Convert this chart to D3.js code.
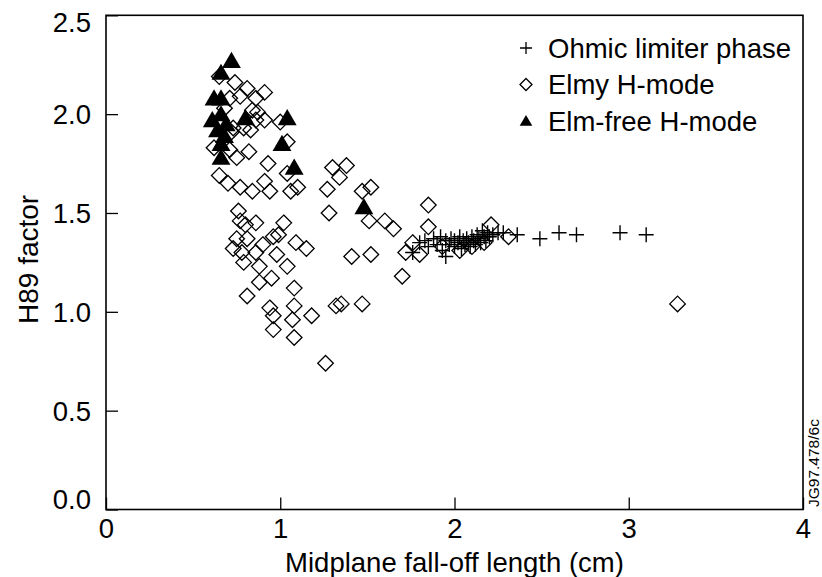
<!DOCTYPE html>
<html>
<head>
<meta charset="utf-8">
<script src="https://cdn.jsdelivr.net/npm/d3@7"></script>
<style>
  body { margin: 0; background: #fff; }
  text { font-family: "Liberation Sans", Arial, Helvetica, sans-serif; fill: #000; }
</style>
</head>
<body>
<svg id="chart" width="822" height="577"></svg>
<script>
// Ohmic limiter phase
const ohmicX = [1.76,1.80,1.83,1.85,1.88,1.90,1.92,1.93,1.95,1.95,1.97,1.98,2.00,2.00,2.02,2.03,2.04,2.05,2.06,2.07,2.08,2.09,2.10,2.11,2.12,2.13,2.14,2.15,2.16,2.17,2.18,2.19,2.20,2.22,2.25,2.28,2.36,2.49,2.60,2.70,2.95,3.10];
const ohmicY = [1.30,1.35,1.36,1.33,1.37,1.34,1.38,1.31,1.28,1.36,1.34,1.37,1.33,1.36,1.35,1.38,1.32,1.36,1.34,1.37,1.35,1.33,1.38,1.36,1.34,1.39,1.37,1.35,1.41,1.38,1.36,1.40,1.38,1.39,1.40,1.40,1.39,1.37,1.40,1.39,1.40,1.39];

// Elmy H-mode
const elmyX = [0.74,0.81,0.65,0.91,0.86,0.77,0.71,0.84,0.87,0.91,1.00,0.86,0.83,0.73,0.79,1.04,0.62,0.71,0.82,0.75,0.93,1.04,1.30,1.38,1.34,0.65,0.70,0.77,0.84,0.91,0.94,1.06,1.10,1.27,1.47,1.52,
  1.28,0.76,0.77,0.80,0.86,1.02,1.51,0.75,0.81,0.73,0.78,0.79,0.86,0.90,0.96,0.99,0.98,1.09,1.15,0.88,1.04,0.95,0.88,1.08,1.41,1.52,0.81,0.94,0.96,1.08,1.07,1.18,0.96,1.08,1.32,1.35,1.47,1.26,
  1.60,1.65,1.85,1.85,1.76,1.72,1.80,1.70,2.21,2.31,1.93,2.03,2.10,2.17,3.28,0.68,0.72];
const elmyY = [2.16,2.13,2.19,2.11,2.08,2.09,2.08,2.02,2.01,1.97,1.96,1.97,1.92,1.93,1.93,1.86,1.83,1.82,1.81,1.78,1.75,1.70,1.73,1.74,1.68,1.69,1.65,1.63,1.61,1.66,1.61,1.61,1.63,1.62,1.61,1.63,
  1.50,1.51,1.46,1.44,1.45,1.45,1.46,1.37,1.37,1.32,1.30,1.25,1.30,1.34,1.38,1.39,1.29,1.35,1.32,1.23,1.23,1.17,1.15,1.12,1.28,1.29,1.08,1.02,0.98,1.03,0.96,0.98,0.91,0.87,1.03,1.04,1.04,0.74,
  1.46,1.42,1.54,1.43,1.35,1.30,1.29,1.18,1.44,1.38,1.33,1.31,1.33,1.35,1.04,2.03,1.91];

// Elm-free H-mode
const freeX = [0.72,0.66,0.62,0.66,0.61,0.66,0.69,0.64,0.80,1.04,0.66,1.01,1.08,0.66,0.68,1.48];
const freeY = [2.27,2.21,2.08,2.08,1.97,2.00,1.95,1.92,1.98,1.98,1.85,1.85,1.73,1.78,1.89,1.53];

const xTicks = [0, 1, 2, 3, 4];
const yTicks = [0, 0.5, 1.0, 1.5, 2.0, 2.5];
const legendLabels = ["Ohmic limiter phase", "Elmy H-mode", "Elm-free H-mode"];

const FONT = 27.5;

const svg = d3.select("#chart");
const x = d3.scaleLinear().domain([0, 4]).range([106, 803]);
const y = d3.scaleLinear().domain([0, 2.5]).range([509.5, 15.3]);

// symbol paths
const plusPath = r => `M${-r},0H${r}M0,${-r}V${r}`;
const diamondPath = r => `M0,${-r}L${r},0L0,${r}L${-r},0Z`;
const triPath = r => `M0,${-r}L${r*1.05},${r*0.8}L${-r*1.05},${r*0.8}Z`;

// axes
const yAxis = d3.axisLeft(y).tickValues(yTicks).tickSize(-12).tickPadding(15)
  .tickFormat(d3.format(".1f"));
const gy = svg.append("g").attr("transform", `translate(${x(0)},0)`).call(yAxis);
gy.select(".domain").remove();
gy.selectAll("text").attr("font-size", FONT).attr("font-family", null)
  .attr("dy", d => d === 2.5 ? "0.58em" : d === 0 ? "-0.02em" : "0.34em");
gy.selectAll("line").attr("stroke-width", 1.3);

const xAxis = d3.axisBottom(x).tickValues(xTicks).tickSize(-12).tickPadding(9)
  .tickFormat(d3.format("d"));
const gx = svg.append("g").attr("transform", `translate(0,${y(0)})`).call(xAxis);
gx.select(".domain").remove();
gx.selectAll("text").attr("font-size", FONT).attr("font-family", null);
gx.selectAll("line").attr("stroke-width", 1.3);

// frame
svg.append("rect")
  .attr("x", x(0)).attr("y", y(2.5))
  .attr("width", x(4) - x(0)).attr("height", y(0) - y(2.5))
  .attr("fill", "none").attr("stroke", "#000").attr("stroke-width", 1.6);

// axis titles
svg.append("text").attr("x", (x(0) + x(4)) / 2).attr("y", 572)
  .attr("text-anchor", "middle").attr("font-size", FONT)
  .text("Midplane fall-off length (cm)");
svg.append("text").attr("transform", `translate(38,${(y(1.0)+y(1.5))/2 - 3}) rotate(-90)`)
  .attr("text-anchor", "middle").attr("font-size", 28)
  .text("H89 factor");

// plate label
svg.append("text").attr("transform", `translate(819,507) rotate(-90)`)
  .attr("font-size", 15.5).text("JG97.478/6c");

const plot = svg.append("g");

// Elmy H-mode diamonds
plot.selectAll(".elmy").data(d3.range(elmyX.length)).join("path")
  .attr("class", "elmy")
  .attr("transform", i => `translate(${x(elmyX[i])},${y(elmyY[i])})`)
  .attr("d", diamondPath(7.8))
  .attr("fill", "none").attr("stroke", "#000").attr("stroke-width", 1.3);

// Ohmic plus markers
plot.selectAll(".ohmic").data(d3.range(ohmicX.length)).join("path")
  .attr("class", "ohmic")
  .attr("transform", i => `translate(${x(ohmicX[i])},${y(ohmicY[i])})`)
  .attr("d", plusPath(7.5))
  .attr("fill", "none").attr("stroke", "#000").attr("stroke-width", 1.4);

// Elm-free triangles
plot.selectAll(".free").data(d3.range(freeX.length)).join("path")
  .attr("class", "free")
  .attr("transform", i => `translate(${x(freeX[i])},${y(freeY[i])})`)
  .attr("d", triPath(9))
  .attr("fill", "#000");

// legend
const legend = svg.append("g").attr("transform", "translate(526,48)");
const rows = legend.selectAll("g").data(legendLabels).join("g")
  .attr("transform", (d, i) => `translate(0,${i * 36.5})`);
rows.append("path")
  .attr("d", (d, i) => i === 0 ? plusPath(6) : i === 1 ? diamondPath(6) : triPath(6))
  .attr("fill", (d, i) => i === 2 ? "#000" : "none")
  .attr("stroke", (d, i) => i === 2 ? "none" : "#000")
  .attr("stroke-width", 1.3);
rows.append("text").attr("x", 22).attr("dy", "0.35em").attr("font-size", FONT).text(d => d);
</script>
</body>
</html>
